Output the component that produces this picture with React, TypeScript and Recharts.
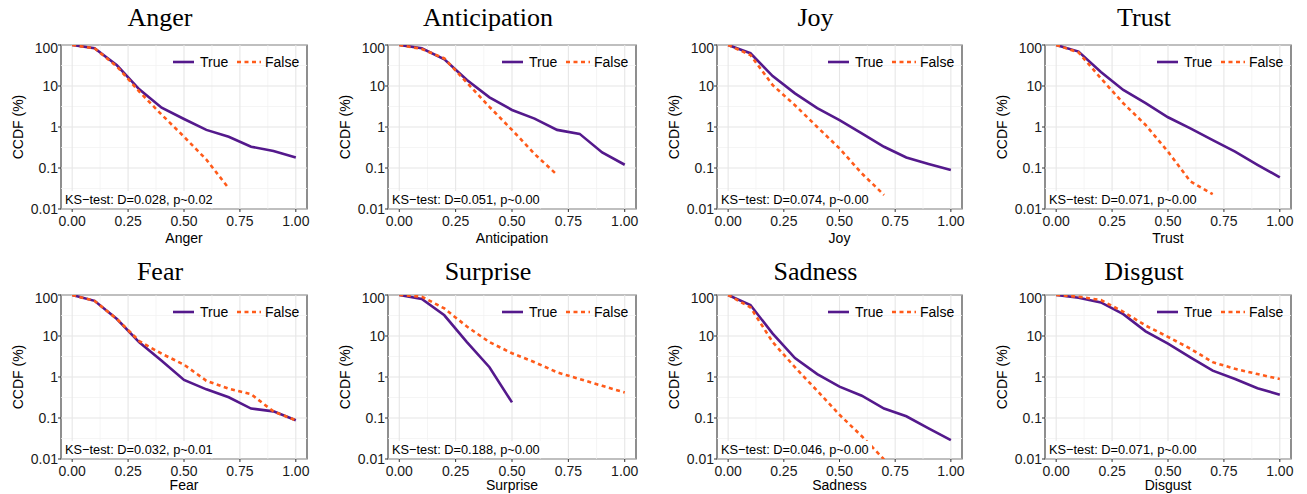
import React from 'react';
import { LineChart, Line, XAxis, YAxis, ReferenceLine, ReferenceArea } from 'recharts';

const xValues = [0, 0.1, 0.2, 0.3, 0.4, 0.5, 0.6, 0.7, 0.8, 0.9, 1.0];
const xTicks = [0, 0.25, 0.5, 0.75, 1];
const xMinor = [0.125, 0.375, 0.625, 0.875];
const yTicks = [0.01, 0.1, 1, 10, 100];
const yMinor = [0.0316, 0.316, 3.16, 31.6];
const seriesNames = ['True', 'False'];

const angerTrue = [100, 83, 32, 8.3, 2.95, 1.57, 0.85, 0.58, 0.33, 0.26, 0.18];
const angerFalse = [100, 83, 30, 7.3, 2.0, 0.58, 0.16, 0.032];
const anticipationTrue = [100, 83, 45, 14, 5.3, 2.6, 1.6, 0.85, 0.68, 0.24, 0.12];
const anticipationFalse = [100, 80, 47, 12, 3.1, 0.85, 0.22, 0.068];
const joyTrue = [100, 63, 17.5, 6.6, 2.9, 1.48, 0.7, 0.33, 0.18, 0.126, 0.089];
const joyFalse = [100, 57, 10.5, 3.4, 1.0, 0.3, 0.074, 0.022];
const trustTrue = [100, 69, 22, 8, 3.8, 1.73, 0.93, 0.48, 0.25, 0.12, 0.059];
const trustFalse = [100, 66, 15.4, 3.8, 1.12, 0.25, 0.047, 0.023];
const fearTrue = [100, 72, 26, 7, 2.5, 0.85, 0.5, 0.32, 0.17, 0.145, 0.088];
const fearFalse = [100, 72, 26, 7.5, 3.7, 2.0, 0.81, 0.52, 0.38, 0.145, 0.088];
const surpriseTrue = [100, 80, 32, 7.1, 1.73, 0.24];
const surpriseFalse = [100, 91, 47, 17, 7.1, 3.8, 2.3, 1.3, 0.89, 0.61, 0.42];
const sadnessTrue = [100, 57, 11.4, 2.9, 1.18, 0.58, 0.35, 0.17, 0.11, 0.056, 0.029];
const sadnessFalse = [100, 50, 7.1, 1.73, 0.46, 0.12, 0.036, 0.0098];
const disgustTrue = [100, 86, 66, 34, 13, 6.5, 3.0, 1.43, 0.89, 0.53, 0.37];
const disgustFalse = [100, 91, 75, 39, 18, 9.5, 4.9, 2.3, 1.58, 1.18, 0.89];

const emotions = ['Anger', 'Anticipation', 'Joy', 'Trust', 'Fear', 'Surprise', 'Sadness', 'Disgust'];
const trueSeries = [angerTrue, anticipationTrue, joyTrue, trustTrue, fearTrue, surpriseTrue, sadnessTrue, disgustTrue];
const falseSeries = [angerFalse, anticipationFalse, joyFalse, trustFalse, fearFalse, surpriseFalse, sadnessFalse, disgustFalse];
const ksLabels = [
  'KS\u2212test: D=0.028, p~0.02',
  'KS\u2212test: D=0.051, p~0.00',
  'KS\u2212test: D=0.074, p~0.00',
  'KS\u2212test: D=0.071, p~0.00',
  'KS\u2212test: D=0.032, p~0.01',
  'KS\u2212test: D=0.188, p~0.00',
  'KS\u2212test: D=0.046, p~0.00',
  'KS\u2212test: D=0.071, p~0.00',
];

const PURPLE = '#54198C';
const ORANGE = '#FF5B1A';
const SANS = '"Liberation Sans", Arial, sans-serif';
const SERIF = '"Liberation Serif", "Times New Roman", serif';

const colLefts = [61, 388, 717, 1045];
const colWidths = [246, 248, 245, 246];
const rows = [
  { top: 45, titleBase: 26, xLabelBase: 243 },
  { top: 295, titleBase: 279.5, xLabelBase: 490 },
];
const PLOT_H = 164;
const Y_AXIS_W = 60;
const X_AXIS_H = 45;
const M_TOP = 5;
const M_RIGHT = 10;

function buildData(t: number[], f: number[]) {
  return xValues.map((x, i) => ({
    x,
    t: i < t.length ? t[i] : undefined,
    f: i < f.length ? f[i] : undefined,
  }));
}

function Panel({ idx }: { idx: number }) {
  const col = idx % 4;
  const row = rows[Math.floor(idx / 4)];
  const left = colLefts[col];
  const w = colWidths[col];
  const data = buildData(trueSeries[idx], falseSeries[idx]);
  const chartW = Y_AXIS_W + w + M_RIGHT;
  const chartH = M_TOP + PLOT_H + X_AXIS_H;
  return (
    <div style={{ position: 'absolute', left: left - Y_AXIS_W, top: row.top - M_TOP }}>
      <LineChart width={chartW} height={chartH} data={data} margin={{ top: M_TOP, right: M_RIGHT, bottom: 0, left: 0 }}>
        <XAxis
          dataKey="x"
          type="number"
          domain={[-0.05, 1.05]}
          ticks={xTicks}
          allowDataOverflow
          tickFormatter={(v: number) => v.toFixed(2)}
          height={X_AXIS_H}
          axisLine={false}
          tickSize={3}
          tickMargin={4}
          tickLine={{ stroke: '#333' }}
          tick={{ fontSize: 14, fill: '#1a1a1a', fontFamily: SANS }}
        />
        <YAxis
          type="number"
          scale="log"
          domain={[0.01, 100]}
          ticks={yTicks}
          allowDataOverflow
          tickFormatter={(v: number) => String(v)}
          width={Y_AXIS_W}
          axisLine={false}
          tickSize={3}
          tickMargin={0}
          tickLine={{ stroke: '#333' }}
          tick={{ fontSize: 14, fill: '#1a1a1a', fontFamily: SANS }}
        />
        {yMinor.map((v) => (
          <ReferenceLine key={'ym' + v} y={v} stroke="#F2F2F2" strokeWidth={0.8} />
        ))}
        {xMinor.map((v) => (
          <ReferenceLine key={'xm' + v} x={v} stroke="#F2F2F2" strokeWidth={0.8} />
        ))}
        {yTicks.map((v) => (
          <ReferenceLine key={'yM' + v} y={v} stroke="#E6E6E6" strokeWidth={1.1} />
        ))}
        {xTicks.map((v) => (
          <ReferenceLine key={'xM' + v} x={v} stroke="#E6E6E6" strokeWidth={1.1} />
        ))}
        <Line
          dataKey="t"
          name={seriesNames[0]}
          type="linear"
          stroke={PURPLE}
          strokeWidth={2.6}
          dot={false}
          activeDot={false}
          isAnimationActive={false}
        />
        <Line
          dataKey="f"
          name={seriesNames[1]}
          type="linear"
          stroke={ORANGE}
          strokeWidth={2.6}
          strokeDasharray="4 3.5"
          dot={false}
          activeDot={false}
          isAnimationActive={false}
        />
        <ReferenceArea x1={-0.05} x2={1.05} y1={0.01} y2={100} fill="none" stroke="#333" strokeWidth={1.1} />
      </LineChart>
    </div>
  );
}

function Overlay() {
  return (
    <svg width={1307} height={494} style={{ position: 'absolute', left: 0, top: 0, pointerEvents: 'none' }}>
      {emotions.map((name, idx) => {
        const col = idx % 4;
        const row = rows[Math.floor(idx / 4)];
        const left = colLefts[col];
        const w = colWidths[col];
        const right = left + w;
        const top = row.top;
        const bottom = top + PLOT_H;
        const ly = top + 17;
        return (
          <g key={name}>
            <text x={left + w / 2 - 24} y={row.titleBase} textAnchor="middle" fontFamily={SERIF} fontSize={26} fill="#000">
              {name}
            </text>
            <text
              transform={`translate(${left - 43},${top + PLOT_H / 2}) rotate(-90)`}
              textAnchor="middle"
              dominantBaseline="central"
              fontFamily={SANS}
              fontSize={14}
              fill="#000"
            >
              CCDF (%)
            </text>
            <text x={left + w / 2} y={row.xLabelBase} textAnchor="middle" fontFamily={SANS} fontSize={14} fill="#000">
              {name}
            </text>
            <line x1={right - 134} x2={right - 113} y1={ly} y2={ly} stroke={PURPLE} strokeWidth={2.6} />
            <text x={right - 107} y={ly} dominantBaseline="central" fontFamily={SANS} fontSize={14} fill="#000">
              {seriesNames[0]}
            </text>
            <line x1={right - 70} x2={right - 46} y1={ly} y2={ly} stroke={ORANGE} strokeWidth={2.6} strokeDasharray="4 3.5" />
            <text x={right - 42} y={ly} dominantBaseline="central" fontFamily={SANS} fontSize={14} fill="#000">
              {seriesNames[1]}
            </text>
            <rect x={left + 1} y={bottom - 18} width={154} height={17} fill="#fff" />
            <text x={left + 4} y={bottom - 5} fontFamily={SANS} fontSize={12.8} fill="#000">
              {ksLabels[idx]}
            </text>
          </g>
        );
      })}
    </svg>
  );
}

export default function App() {
  return (
    <div style={{ position: 'absolute', left: 0, top: 0, width: 1307, height: 494, background: '#fff', overflow: 'hidden' }}>
      {emotions.map((name, idx) => (
        <Panel key={name} idx={idx} />
      ))}
      <Overlay />
    </div>
  );
}
